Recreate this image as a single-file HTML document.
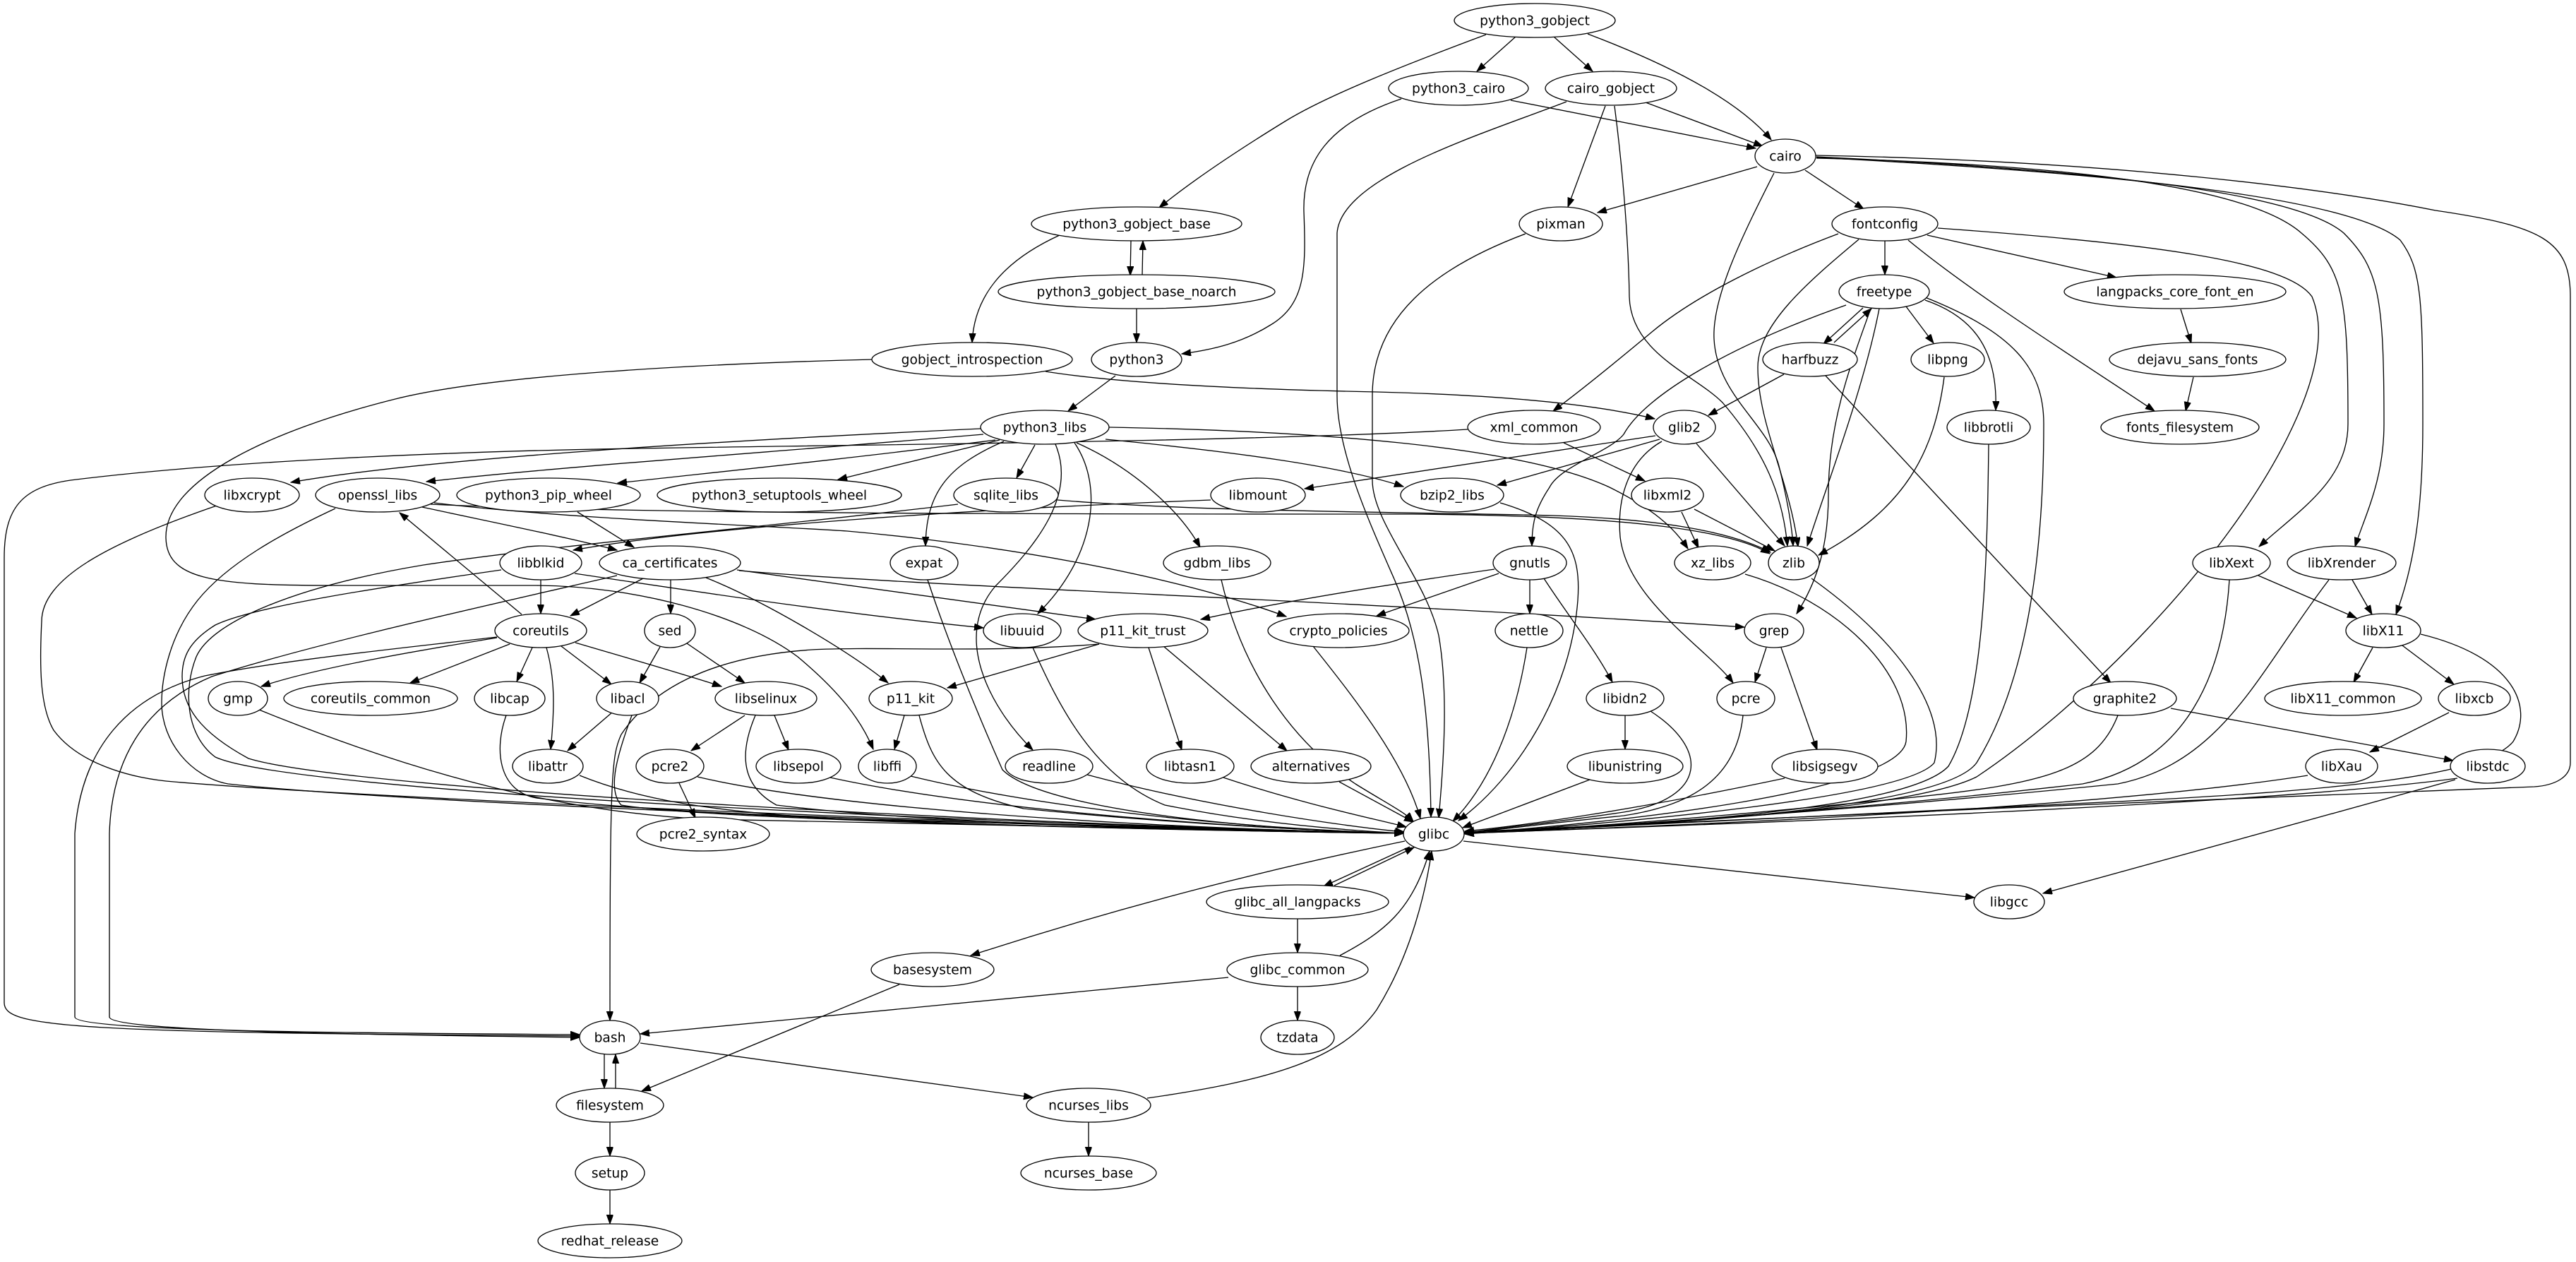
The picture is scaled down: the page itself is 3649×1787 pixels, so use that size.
<!DOCTYPE html>
<html>
<head>
<meta charset="utf-8">
<style>
  html,body{margin:0;padding:0;background:#fff;}
  svg{display:block;}
  text{font-family:"DejaVu Sans","Liberation Sans",sans-serif;font-size:18.67px;text-anchor:middle;fill:#000;}
</style>
</head>
<body>
<svg width="3649" height="1787" viewBox="0 0 3649 1787" xmlns="http://www.w3.org/2000/svg">
<defs>
<marker id="a" markerWidth="14" markerHeight="10" refX="13" refY="4.7" orient="auto" markerUnits="userSpaceOnUse"><path d="M0,0 L13,4.7 L0,9.4z" fill="#000" stroke="#000" stroke-width="1"/></marker>
</defs>
<rect x="0" y="0" width="3649" height="1787" fill="#fff"/>
<g fill="none" stroke="#000" stroke-width="1.33" marker-end="url(#a)">
<path d="M2147,52 L2092,101"/>
<path d="M2201,52 L2256,101"/>
<path d="M2249,48 C2360,90 2460,140 2509,198"/>
<path d="M2105,49 C1990,92 1880,135 1820,172 C1750,215 1690,255 1642,294"/>
<path d="M2140,142 L2487,210"/>
<path d="M1985,140 C1880,175 1845,230 1847,300 C1850,380 1850,430 1800,460 C1760,485 1720,495 1674,501"/>
<path d="M2331,145 L2497,207"/>
<path d="M2274,150 L2221,293"/>
<path d="M2219,144 C2100,190 1900,250 1894,330 L1894,560 C1894,640 1940,740 1975,820 C2010,900 2025,1000 2027,1157"/>
<path d="M2287,150 C2300,250 2307,350 2308,420 C2310,500 2400,530 2440,570 C2500,640 2525,700 2532,773"/>
<path d="M2489,236 L2263,301"/>
<path d="M2557,241 L2640,296"/>
<path d="M2513,245 C2470,330 2425,420 2428,480 C2432,560 2505,600 2520,660 C2530,700 2538,740 2540,773"/>
<path d="M2573,224 C2900,232 3180,260 3260,330 C3320,380 3326,420 3326,600 C3326,680 3260,720 3200,774"/>
<path d="M2573,222 C2950,240 3250,270 3320,330 C3370,380 3377,420 3377,600 C3377,680 3350,730 3336,774"/>
<path d="M2573,223 C3000,245 3330,280 3400,340 C3430,380 3432,420 3432,600 C3432,720 3420,800 3394,870"/>
<path d="M2572,220 C3000,228 3300,268 3450,298 C3600,320 3641,340 3641,420 L3641,1080 C3641,1100 3620,1112 3590,1114 C3200,1130 2400,1160 2075,1178"/>
<path d="M2161,331 C2030,380 1944,450 1944,560 L1944,680 C1944,740 2020,820 2038,900 C2052,980 2045,1080 2038,1158"/>
<path d="M2670,341 L2670,389"/>
<path d="M2730,333 L2998,393"/>
<path d="M2703,340 C2800,420 2960,520 3052,582"/>
<path d="M2745,323 C3050,345 3240,370 3275,420 C3300,480 3270,560 3240,620 C3150,800 2950,1000 2800,1100 C2700,1150 2300,1170 2075,1180"/>
<path d="M2604,331 C2500,370 2400,420 2340,470 C2280,520 2230,560 2200,582"/>
<path d="M2633,339 C2560,400 2490,460 2490,520 C2490,600 2535,680 2547,774"/>
<path d="M2650,437 C2620,520 2590,600 2590,700 C2590,780 2570,830 2545,869"/>
<path d="M2639,436 L2583,487"/>
<path d="M2598,485 L2651,437"/>
<path d="M2700,434 L2739,486"/>
<path d="M2727,425 C2800,450 2830,500 2827,581"/>
<path d="M2727,421 C2850,470 2895,520 2895,600 C2895,750 2880,950 2800,1080 C2750,1150 2300,1170 2075,1180"/>
<path d="M2662,437 C2640,550 2590,680 2560,773"/>
<path d="M2615,432 C2450,490 2330,560 2300,615 C2280,640 2210,660 2195,690 C2175,720 2170,740 2170,773"/>
<path d="M2351,622 L2121,687"/>
<path d="M2345,617 L1848,692"/>
<path d="M2354,625 C2310,650 2290,700 2295,760 C2305,850 2420,920 2455,967"/>
<path d="M2403,628 L2528,773"/>
<path d="M2527,530 L2420,588"/>
<path d="M2586,532 L2990,967"/>
<path d="M2754,534 C2740,640 2700,720 2576,786"/>
<path d="M3089,438 L3104,486"/>
<path d="M3107,534 L3096,582"/>
<path d="M2817,629 C2815,800 2810,1000 2760,1085 C2700,1150 2300,1170 2075,1180"/>
<path d="M1602,341 L1601,390"/>
<path d="M1618,390 L1619,341"/>
<path d="M1501,333 C1420,370 1380,420 1377,485"/>
<path d="M1610,437 L1610,485"/>
<path d="M1481,526 C1600,545 1800,552 1950,555 C2150,560 2270,575 2344,593"/>
<path d="M1236,509 C1000,515 700,530 560,565 C380,610 235,680 235,760 C235,820 300,829 470,829 L760,829 C900,830 1050,870 1130,930 C1190,980 1220,1020 1237,1061"/>
<path d="M1580,532 L1513,582"/>
<path d="M1466,630 L1440,677"/>
<path d="M1416,623 L1187,679"/>
<path d="M1422,625 C1340,660 1312,700 1311,773"/>
<path d="M1525,627 C1600,660 1670,720 1700,775"/>
<path d="M1522,627 C1565,690 1550,790 1470,869"/>
<path d="M1495,629 C1525,700 1470,770 1410,830 C1350,900 1400,1000 1463,1062"/>
<path d="M1566,622 C1750,640 1900,660 1988,689"/>
<path d="M1571,605 C1850,610 2150,630 2280,690 C2340,720 2370,745 2391,777"/>
<path d="M1389,607 C1000,625 600,650 412,683"/>
<path d="M1393,615 C1100,640 800,660 604,682"/>
<path d="M1410,623 C1200,650 1000,670 875,684"/>
<path d="M2079,608 C1800,625 1200,630 900,635 C600,640 300,655 100,680 C30,690 6,720 6,790 L6,1420 C6,1455 100,1462 821,1467"/>
<path d="M2215,627 L2330,681"/>
<path d="M2382,725 L2406,776"/>
<path d="M2400,721 L2514,780"/>
<path d="M1498,708 C1700,725 2000,725 2200,730 C2350,735 2450,752 2508,782"/>
<path d="M1357,714 C1100,745 800,770 600,800 C420,830 300,880 278,930 C260,975 262,1040 305,1072 C420,1125 1500,1170 1988,1180"/>
<path d="M1715,708 C1400,720 1000,745 812,779"/>
<path d="M598,718 C700,740 800,760 874,779"/>
<path d="M610,714 C900,728 1500,728 2000,728 C2300,730 2450,750 2507,784"/>
<path d="M615,712 C800,735 1100,745 1200,752 C1400,770 1650,810 1822,873"/>
<path d="M475,720 C400,755 323,797 280,850 C240,900 229,960 229,995 C229,1050 270,1100 323,1110 C600,1140 1500,1172 1988,1180"/>
<path d="M307,716 C150,770 59,820 59,880 C56,940 56,1000 76,1034 C110,1080 180,1100 235,1106 C500,1130 1500,1172 1988,1180"/>
<path d="M818,725 L898,775"/>
<path d="M915,817 L808,872"/>
<path d="M950,821 L950,869"/>
<path d="M1044,807 L1552,877"/>
<path d="M1000,818 C1080,850 1200,920 1258,967"/>
<path d="M1047,808 C1300,830 1900,850 2471,888"/>
<path d="M874,815 C700,855 450,910 300,958 C200,1000 158,1080 155,1180 L155,1440 C155,1460 500,1465 821,1469"/>
<path d="M766,821 L766,869"/>
<path d="M814,812 C1000,840 1200,870 1393,889"/>
<path d="M710,807 C550,830 360,858 305,885 C268,908 258,930 258,958 C258,1000 282,1036 352,1074 C500,1120 1500,1170 1988,1180"/>
<path d="M739,870 L566,726"/>
<path d="M704,903 C600,920 450,945 370,972"/>
<path d="M722,912 L581,967"/>
<path d="M754,917 L732,965"/>
<path d="M774,917 C786,960 786,1000 780,1061"/>
<path d="M795,915 L866,969"/>
<path d="M815,910 C900,935 970,955 1022,972"/>
<path d="M704,902 C550,920 400,935 290,957 C180,985 115,1060 106,1180 L106,1440 C106,1460 500,1463 821,1465"/>
<path d="M935,916 L906,967"/>
<path d="M973,911 L1055,967"/>
<path d="M367,1005 C600,1100 800,1150 1000,1160 C1400,1170 1700,1177 1988,1180"/>
<path d="M717,1013 C700,1060 705,1120 760,1130 C1000,1160 1600,1175 1988,1180"/>
<path d="M868,1008 L804,1063"/>
<path d="M895,1013 C870,1080 862,1120 880,1140 C1000,1160 1600,1175 1988,1180"/>
<path d="M821,1098 C900,1130 1000,1150 1200,1160 C1500,1170 1800,1177 1988,1180"/>
<path d="M1055,1013 L979,1063"/>
<path d="M1097,1013 L1117,1062"/>
<path d="M1070,1013 C1050,1060 1045,1110 1100,1140 C1300,1165 1700,1177 1988,1180"/>
<path d="M962,1109 L985,1158"/>
<path d="M988,1100 C1200,1150 1700,1175 1988,1180"/>
<path d="M1176,1101 C1400,1150 1800,1175 1988,1180"/>
<path d="M1290,1099 C1500,1150 1800,1175 1988,1180"/>
<path d="M1281,1013 L1267,1061"/>
<path d="M1302,1013 C1320,1080 1340,1120 1450,1145 C1700,1170 1900,1177 1988,1180"/>
<path d="M1557,912 L1342,974"/>
<path d="M1627,917 L1674,1062"/>
<path d="M1648,915 L1823,1063"/>
<path d="M1557,912 C1400,925 1250,915 1150,920 C1000,930 920,980 880,1040 C866,1070 864,1100 864,1445"/>
<path d="M1463,917 C1500,1000 1550,1100 1650,1140 C1800,1170 1950,1178 1988,1180"/>
<path d="M1314,821 C1340,900 1380,1000 1420,1090 C1480,1150 1800,1176 1988,1180"/>
<path d="M1730,821 C1760,950 1830,1050 1920,1110 C1960,1135 1990,1150 2002,1163"/>
<path d="M1540,1097 C1700,1140 1900,1170 1989,1178"/>
<path d="M1733,1101 C1850,1140 1950,1160 1992,1171"/>
<path d="M1897,1107 L2002,1164"/>
<path d="M1860,915 C1920,990 1990,1080 2012,1159"/>
<path d="M2123,812 L1950,872"/>
<path d="M2117,806 C1950,830 1800,855 1701,877"/>
<path d="M2167,821 L2167,869"/>
<path d="M2187,819 C2220,870 2260,920 2284,966"/>
<path d="M2125,712 C2220,740 2240,780 2235,850 C2225,980 2150,1100 2066,1162"/>
<path d="M2163,917 C2150,1000 2120,1100 2058,1163"/>
<path d="M2302,1013 L2302,1061"/>
<path d="M2338,1007 C2420,1060 2420,1130 2300,1150 C2200,1165 2100,1175 2073,1180"/>
<path d="M2252,1104 L2072,1172"/>
<path d="M2469,1013 C2460,1100 2400,1140 2300,1155 C2200,1165 2120,1175 2074,1180"/>
<path d="M2502,917 L2486,966"/>
<path d="M2523,917 L2574,1062"/>
<path d="M2528,1102 C2300,1150 2150,1170 2075,1177"/>
<path d="M2472,813 C2600,850 2710,950 2700,1050 C2690,1120 2300,1165 2075,1180"/>
<path d="M2566,819 C2680,900 2760,1000 2740,1080 C2700,1130 2300,1165 2075,1181"/>
<path d="M3075,1003 L3475,1077"/>
<path d="M3000,1013 C2970,1090 2900,1110 2700,1130 C2400,1160 2200,1175 2075,1180"/>
<path d="M3199,815 L3338,875"/>
<path d="M3158,821 C3150,950 3100,1080 2950,1110 C2600,1150 2250,1172 2075,1180"/>
<path d="M3332,821 L3360,870"/>
<path d="M3299,821 C3200,950 3150,1080 3000,1110 C2600,1150 2250,1172 2075,1180"/>
<path d="M3361,917 L3334,966"/>
<path d="M3403,914 L3476,969"/>
<path d="M3429,898 C3560,930 3590,1000 3560,1050 C3520,1100 3300,1120 3000,1135 C2600,1155 2250,1172 2075,1180"/>
<path d="M3469,1009 L3357,1065"/>
<path d="M3269,1098 C3000,1140 2500,1165 2075,1180"/>
<path d="M3481,1102 C3200,1140 2500,1165 2075,1180"/>
<path d="M3478,1104 L2894,1265"/>
<path d="M2073,1191 L2797,1271"/>
<path d="M1997,1199 L1875,1255"/>
<path d="M1890,1254 L2003,1200"/>
<path d="M1990,1191 C1800,1230 1600,1280 1375,1353"/>
<path d="M1838,1301 L1838,1349"/>
<path d="M1898,1353 C1960,1320 2000,1290 2025,1205"/>
<path d="M1838,1397 L1838,1445"/>
<path d="M1740,1384 L907,1464"/>
<path d="M1274,1394 L909,1545"/>
<path d="M856,1493 L856,1541"/>
<path d="M872,1541 L872,1493"/>
<path d="M907,1477 L1463,1554"/>
<path d="M864,1589 L864,1637"/>
<path d="M864,1685 L864,1733"/>
<path d="M1625,1555 C1800,1530 1900,1500 1950,1430 C2000,1350 2020,1260 2028,1205"/>
<path d="M1542,1589 L1542,1637"/>
</g>
<g fill="#fff" stroke="#000" stroke-width="1.33">
<ellipse cx="2174" cy="29" rx="114" ry="24"/>
<ellipse cx="2066" cy="125" rx="99" ry="24"/>
<ellipse cx="2282" cy="125" rx="93" ry="24"/>
<ellipse cx="2529" cy="221" rx="43" ry="24"/>
<ellipse cx="1610" cy="317" rx="149" ry="24"/>
<ellipse cx="2211" cy="317" rx="59" ry="24"/>
<ellipse cx="2670" cy="317" rx="75" ry="24"/>
<ellipse cx="1610" cy="413" rx="196" ry="24"/>
<ellipse cx="2669" cy="413" rx="64" ry="24"/>
<ellipse cx="3081" cy="413" rx="157" ry="24"/>
<ellipse cx="1377" cy="509" rx="142" ry="24"/>
<ellipse cx="1610" cy="509" rx="64" ry="24"/>
<ellipse cx="2564" cy="509" rx="67" ry="24"/>
<ellipse cx="2759" cy="509" rx="52" ry="24"/>
<ellipse cx="3113" cy="509" rx="125" ry="24"/>
<ellipse cx="1480" cy="605" rx="91" ry="24"/>
<ellipse cx="2173" cy="605" rx="94" ry="24"/>
<ellipse cx="2386" cy="605" rx="44" ry="24"/>
<ellipse cx="2817" cy="605" rx="59" ry="24"/>
<ellipse cx="3088" cy="605" rx="112" ry="24"/>
<ellipse cx="357" cy="701" rx="67" ry="24"/>
<ellipse cx="535" cy="701" rx="88" ry="24"/>
<ellipse cx="777" cy="701" rx="130" ry="24"/>
<ellipse cx="1104" cy="701" rx="173" ry="24"/>
<ellipse cx="1425" cy="701" rx="74" ry="24"/>
<ellipse cx="1782" cy="701" rx="67" ry="24"/>
<ellipse cx="2057" cy="701" rx="73" ry="24"/>
<ellipse cx="2362" cy="701" rx="51" ry="24"/>
<ellipse cx="766" cy="797" rx="58" ry="24"/>
<ellipse cx="949" cy="797" rx="100" ry="24"/>
<ellipse cx="1309" cy="797" rx="48" ry="24"/>
<ellipse cx="1724" cy="797" rx="76" ry="24"/>
<ellipse cx="2167" cy="797" rx="52" ry="24"/>
<ellipse cx="2426" cy="797" rx="54" ry="24"/>
<ellipse cx="2541" cy="797" rx="36" ry="24"/>
<ellipse cx="3161" cy="797" rx="55" ry="24"/>
<ellipse cx="3317" cy="797" rx="77" ry="24"/>
<ellipse cx="766" cy="893" rx="65" ry="24"/>
<ellipse cx="949" cy="893" rx="36" ry="24"/>
<ellipse cx="1448" cy="893" rx="55" ry="24"/>
<ellipse cx="1619" cy="893" rx="92" ry="24"/>
<ellipse cx="1896" cy="893" rx="100" ry="24"/>
<ellipse cx="2166" cy="893" rx="48" ry="24"/>
<ellipse cx="2513" cy="893" rx="42" ry="24"/>
<ellipse cx="3376" cy="893" rx="53" ry="24"/>
<ellipse cx="337" cy="989" rx="42" ry="24"/>
<ellipse cx="525" cy="989" rx="123" ry="24"/>
<ellipse cx="722" cy="989" rx="50" ry="24"/>
<ellipse cx="889" cy="989" rx="44" ry="24"/>
<ellipse cx="1085" cy="989" rx="72" ry="24"/>
<ellipse cx="1290" cy="989" rx="59" ry="24"/>
<ellipse cx="2302" cy="989" rx="55" ry="24"/>
<ellipse cx="2473" cy="989" rx="41" ry="24"/>
<ellipse cx="3010" cy="989" rx="73" ry="24"/>
<ellipse cx="3319" cy="989" rx="111" ry="24"/>
<ellipse cx="3505" cy="989" rx="51" ry="24"/>
<ellipse cx="776" cy="1085" rx="50" ry="24"/>
<ellipse cx="949" cy="1085" rx="48" ry="24"/>
<ellipse cx="1131" cy="1085" rx="60" ry="24"/>
<ellipse cx="1257" cy="1085" rx="41" ry="24"/>
<ellipse cx="1486" cy="1085" rx="62" ry="24"/>
<ellipse cx="1686" cy="1085" rx="62" ry="24"/>
<ellipse cx="1857" cy="1085" rx="85" ry="24"/>
<ellipse cx="2302" cy="1085" rx="82" ry="24"/>
<ellipse cx="2585" cy="1085" rx="75" ry="24"/>
<ellipse cx="3317" cy="1085" rx="51" ry="24"/>
<ellipse cx="3524" cy="1085" rx="53" ry="24"/>
<ellipse cx="996" cy="1181" rx="94" ry="24"/>
<ellipse cx="2031" cy="1181" rx="43" ry="24"/>
<ellipse cx="1838" cy="1277" rx="129" ry="24"/>
<ellipse cx="2846" cy="1277" rx="50" ry="24"/>
<ellipse cx="1321" cy="1373" rx="87" ry="24"/>
<ellipse cx="1838" cy="1373" rx="100" ry="24"/>
<ellipse cx="864" cy="1469" rx="43" ry="24"/>
<ellipse cx="1838" cy="1469" rx="52" ry="24"/>
<ellipse cx="864" cy="1565" rx="76" ry="24"/>
<ellipse cx="1542" cy="1565" rx="88" ry="24"/>
<ellipse cx="864" cy="1661" rx="49" ry="24"/>
<ellipse cx="1542" cy="1661" rx="96" ry="24"/>
<ellipse cx="864" cy="1757" rx="102" ry="24"/>
</g>
<g>
<text x="2174" y="35.5">python3_gobject</text>
<text x="2066" y="131.5">python3_cairo</text>
<text x="2282" y="131.5">cairo_gobject</text>
<text x="2529" y="227.5">cairo</text>
<text x="1610" y="323.5">python3_gobject_base</text>
<text x="2211" y="323.5">pixman</text>
<text x="2670" y="323.5">fontconfig</text>
<text x="1610" y="419.5">python3_gobject_base_noarch</text>
<text x="2669" y="419.5">freetype</text>
<text x="3081" y="419.5">langpacks_core_font_en</text>
<text x="1377" y="515.5">gobject_introspection</text>
<text x="1610" y="515.5">python3</text>
<text x="2564" y="515.5">harfbuzz</text>
<text x="2759" y="515.5">libpng</text>
<text x="3113" y="515.5">dejavu_sans_fonts</text>
<text x="1480" y="611.5">python3_libs</text>
<text x="2173" y="611.5">xml_common</text>
<text x="2386" y="611.5">glib2</text>
<text x="2817" y="611.5">libbrotli</text>
<text x="3088" y="611.5">fonts_filesystem</text>
<text x="357" y="707.5">libxcrypt</text>
<text x="535" y="707.5">openssl_libs</text>
<text x="777" y="707.5">python3_pip_wheel</text>
<text x="1104" y="707.5">python3_setuptools_wheel</text>
<text x="1425" y="707.5">sqlite_libs</text>
<text x="1782" y="707.5">libmount</text>
<text x="2057" y="707.5">bzip2_libs</text>
<text x="2362" y="707.5">libxml2</text>
<text x="766" y="803.5">libblkid</text>
<text x="949" y="803.5">ca_certificates</text>
<text x="1309" y="803.5">expat</text>
<text x="1724" y="803.5">gdbm_libs</text>
<text x="2167" y="803.5">gnutls</text>
<text x="2426" y="803.5">xz_libs</text>
<text x="2541" y="803.5">zlib</text>
<text x="3161" y="803.5">libXext</text>
<text x="3317" y="803.5">libXrender</text>
<text x="766" y="899.5">coreutils</text>
<text x="949" y="899.5">sed</text>
<text x="1448" y="899.5">libuuid</text>
<text x="1619" y="899.5">p11_kit_trust</text>
<text x="1896" y="899.5">crypto_policies</text>
<text x="2166" y="899.5">nettle</text>
<text x="2513" y="899.5">grep</text>
<text x="3376" y="899.5">libX11</text>
<text x="337" y="995.5">gmp</text>
<text x="525" y="995.5">coreutils_common</text>
<text x="722" y="995.5">libcap</text>
<text x="889" y="995.5">libacl</text>
<text x="1085" y="995.5">libselinux</text>
<text x="1290" y="995.5">p11_kit</text>
<text x="2302" y="995.5">libidn2</text>
<text x="2473" y="995.5">pcre</text>
<text x="3010" y="995.5">graphite2</text>
<text x="3319" y="995.5">libX11_common</text>
<text x="3505" y="995.5">libxcb</text>
<text x="776" y="1091.5">libattr</text>
<text x="949" y="1091.5">pcre2</text>
<text x="1131" y="1091.5">libsepol</text>
<text x="1257" y="1091.5">libffi</text>
<text x="1486" y="1091.5">readline</text>
<text x="1686" y="1091.5">libtasn1</text>
<text x="1857" y="1091.5">alternatives</text>
<text x="2302" y="1091.5">libunistring</text>
<text x="2585" y="1091.5">libsigsegv</text>
<text x="3317" y="1091.5">libXau</text>
<text x="3524" y="1091.5">libstdc</text>
<text x="996" y="1187.5">pcre2_syntax</text>
<text x="2031" y="1187.5">glibc</text>
<text x="1838" y="1283.5">glibc_all_langpacks</text>
<text x="2846" y="1283.5">libgcc</text>
<text x="1321" y="1379.5">basesystem</text>
<text x="1838" y="1379.5">glibc_common</text>
<text x="864" y="1475.5">bash</text>
<text x="1838" y="1475.5">tzdata</text>
<text x="864" y="1571.5">filesystem</text>
<text x="1542" y="1571.5">ncurses_libs</text>
<text x="864" y="1667.5">setup</text>
<text x="1542" y="1667.5">ncurses_base</text>
<text x="864" y="1763.5">redhat_release</text>
</g>
</svg>
</body>
</html>
